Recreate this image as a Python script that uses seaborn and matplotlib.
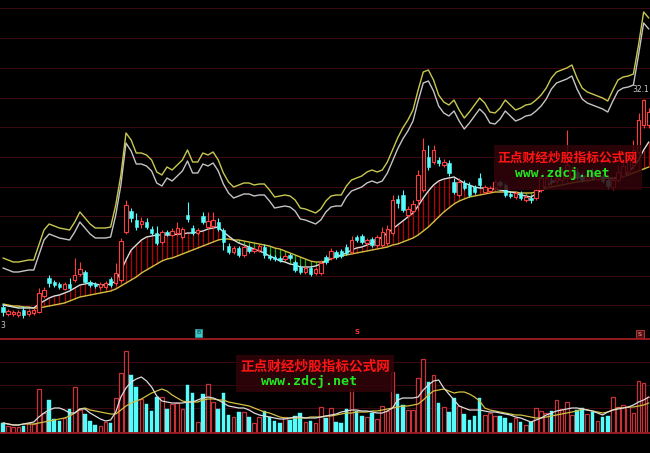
import numpy as np
import matplotlib
matplotlib.use("Agg")
import matplotlib.pyplot as plt
from matplotlib.patches import Rectangle
from matplotlib.lines import Line2D
import seaborn as sns

# ---------------- data ----------------
opens = [11.3, 10.6, 10.6, 10.5, 11.0, 10.6, 10.7, 10.8, 12.4, 14.2,
         13.8, 13.6, 13.1, 13.6, 14.0, 14.6, 14.8, 13.8, 13.6, 13.3,
         13.3, 14.1, 13.7, 14.0, 18.8, 20.9, 20.0, 19.6, 19.8, 19.1,
         18.7, 17.8, 18.8, 18.5, 18.7, 18.3, 20.5, 19.2, 18.7, 20.4,
         19.3, 19.4, 19.8, 19.0, 17.4, 16.8, 17.2, 16.5, 17.3, 16.9,
         17.0, 17.3, 16.4, 16.3, 16.2, 16.1, 16.5, 15.8, 15.3, 14.8,
         15.2, 14.7, 14.7, 16.3, 16.2, 16.8, 16.9, 17.3, 16.8, 18.3,
         18.4, 17.7, 18.1, 17.5, 17.5, 17.7, 18.7, 22.1, 22.5, 20.5,
         20.9, 22.0, 23.0, 26.3, 25.8, 26.0, 25.5, 25.7, 23.8, 22.5,
         23.7, 23.5, 23.3, 24.2, 22.8, 22.9, 23.3, 23.8, 23.5, 22.6,
         22.3, 22.7, 22.0, 22.2, 22.2, 23.0, 23.3, 24.0, 23.9, 24.0,
         24.2, 24.4, 24.8, 24.5, 24.1, 24.8, 24.1, 24.4, 24.0, 23.3,
         24.0, 24.4, 24.8, 25.5, 26.8, 29.5, 29.5]
closes = [10.8, 10.9, 10.8, 10.8, 10.5, 10.9, 11.0, 12.7, 13.0, 13.7,
          13.5, 13.3, 13.6, 13.2, 14.5, 15.1, 13.8, 13.5, 13.4, 13.6,
          13.7, 13.5, 14.7, 17.9, 21.5, 20.2, 19.3, 19.9, 19.3, 18.7,
          17.7, 18.8, 18.6, 18.9, 19.2, 19.1, 20.1, 18.7, 19.0, 19.8,
          19.9, 20.0, 19.1, 17.8, 16.8, 17.2, 16.5, 17.3, 16.9, 17.1,
          17.4, 16.5, 16.2, 16.1, 16.0, 16.4, 16.2, 15.0, 14.8, 15.2,
          14.6, 15.1, 15.7, 15.8, 16.9, 16.3, 16.4, 16.7, 18.0, 18.0,
          17.8, 18.0, 17.5, 18.3, 18.8, 19.1, 22.0, 21.7, 21.0, 21.1,
          21.6, 24.5, 27.0, 25.3, 27.0, 25.7, 25.8, 24.7, 22.8, 23.8,
          23.2, 22.5, 22.8, 23.5, 23.3, 23.2, 23.8, 23.5, 22.5, 22.4,
          22.7, 22.2, 22.3, 22.0, 23.0, 24.2, 24.2, 23.8, 24.2, 24.8,
          25.5, 25.0, 24.2, 24.0, 24.6, 24.2, 24.5, 23.9, 23.4, 24.0,
          24.8, 25.4, 26.0, 27.0, 30.0, 32.0, 30.8]
highs = [11.6, 11.1, 11.0, 11.0, 11.4, 11.1, 11.2, 13.2, 13.3, 14.5,
         14.0, 13.8, 13.8, 14.2, 16.2, 15.8, 15.0, 14.0, 13.8, 13.8,
         13.9, 14.3, 15.7, 18.2, 22.0, 21.2, 20.7, 20.3, 20.2, 19.4,
         19.4, 19.0, 19.0, 19.2, 19.8, 19.3, 21.8, 19.5, 19.2, 20.8,
         20.8, 20.8, 20.2, 19.2, 17.7, 17.4, 17.4, 17.5, 17.5, 17.3,
         17.6, 17.6, 16.6, 16.5, 16.4, 16.6, 16.7, 16.0, 15.5, 15.4,
         15.4, 15.3, 16.0, 16.5, 17.2, 17.0, 17.1, 17.6, 18.4, 18.5,
         18.6, 18.2, 18.3, 18.5, 19.3, 19.5, 22.5, 22.5, 23.0, 21.4,
         22.0, 25.0, 28.2, 27.5, 27.5, 26.3, 26.1, 26.0, 24.2, 24.2,
         24.0, 23.8, 23.5, 24.7, 23.5, 23.4, 24.0, 24.0, 23.7, 22.8,
         22.9, 22.9, 22.5, 22.4, 23.2, 24.5, 24.5, 24.3, 24.5, 25.2,
         29.0, 25.4, 25.2, 24.8, 25.0, 25.2, 24.7, 24.6, 24.3, 24.3,
         25.5, 26.0, 27.0, 28.0, 30.7, 32.1, 31.2]
lows = [10.4, 10.4, 10.4, 10.3, 10.2, 10.4, 10.5, 10.7, 12.2, 13.3,
        13.3, 13.1, 13.0, 13.0, 13.8, 14.4, 13.7, 13.3, 13.2, 13.1,
        13.1, 13.3, 13.5, 13.8, 18.6, 19.8, 19.0, 19.2, 19.1, 18.5,
        17.5, 17.6, 18.4, 18.4, 18.5, 18.1, 19.8, 18.5, 18.5, 19.6,
        19.1, 19.2, 18.9, 17.0, 16.6, 16.6, 16.3, 16.3, 16.7, 16.7,
        16.8, 16.2, 16.0, 15.9, 15.8, 15.9, 16.0, 14.8, 14.6, 14.6,
        14.4, 14.5, 14.5, 15.6, 16.0, 16.1, 16.2, 16.5, 16.6, 17.8,
        17.6, 17.5, 17.3, 17.3, 17.3, 17.5, 18.5, 21.2, 20.8, 20.3,
        20.7, 21.0, 22.8, 25.0, 25.6, 25.4, 25.3, 24.4, 22.6, 22.3,
        23.0, 22.3, 22.6, 23.2, 22.6, 22.7, 23.1, 23.3, 22.3, 22.2,
        22.1, 22.0, 21.8, 21.7, 22.0, 22.8, 23.1, 23.6, 23.7, 23.8,
        24.0, 24.2, 24.0, 23.8, 23.9, 24.0, 23.9, 23.7, 23.1, 23.0,
        23.8, 24.2, 24.6, 25.3, 26.5, 29.2, 29.2]

# fast (white) and slow (yellow) price averages
ma_fast = [11.5, 11.4, 11.3, 11.2, 11.2, 11.2, 11.2, 11.6, 11.9, 12.2,
           12.4, 12.5, 12.7, 12.9, 13.2, 13.5, 13.6, 13.7, 13.6, 13.5,
           13.5, 13.6, 13.9, 14.9, 16.0, 17.0, 17.5, 18.0, 18.3, 18.4,
           18.5, 18.5, 18.5, 18.5, 18.6, 18.6, 18.7, 18.7, 18.8, 18.9,
           19.1, 19.2, 19.3, 18.8, 18.4, 18.0, 17.7, 17.5, 17.3, 17.1,
           16.9, 16.7, 16.4, 16.2, 15.9, 15.8, 15.6, 15.5, 15.3, 15.3,
           15.3, 15.4, 15.6, 15.9, 16.2, 16.4, 16.5, 16.7, 17.0, 17.2,
           17.3, 17.5, 17.7, 18.0, 18.3, 18.7, 19.1, 19.5, 19.9, 20.3,
           20.7, 21.4, 22.2, 22.9, 23.5, 23.9, 24.1, 24.2, 24.3, 24.0,
           23.7, 23.5, 23.3, 23.2, 23.2, 23.1, 23.1, 23.0, 22.9, 22.8,
           22.7, 22.5, 22.4, 22.3, 22.6, 23.0, 23.4, 23.7, 24.0, 24.1,
           24.2, 24.2, 24.3, 24.3, 24.4, 24.4, 24.4, 24.3, 24.2, 24.1,
           24.2, 24.4, 24.8, 25.3, 26.0, 27.0, 27.8]
ma_slow = [11.6, 11.5, 11.4, 11.4, 11.3, 11.3, 11.2, 11.2, 11.3, 11.4,
           11.5, 11.6, 11.7, 11.9, 12.1, 12.3, 12.4, 12.5, 12.6, 12.7,
           12.8, 12.9, 13.1, 13.4, 13.7, 14.0, 14.3, 14.7, 15.0, 15.3,
           15.6, 15.9, 16.1, 16.2, 16.4, 16.6, 16.8, 17.0, 17.2, 17.4,
           17.6, 17.8, 18.0, 18.1, 18.1, 18.0, 18.0, 17.9, 17.8, 17.7,
           17.6, 17.5, 17.4, 17.2, 17.1, 16.9, 16.7, 16.5, 16.3, 16.1,
           15.9, 15.8, 15.8, 15.9, 16.1, 16.3, 16.4, 16.5, 16.6, 16.7,
           16.8, 16.9, 17.0, 17.1, 17.2, 17.3, 17.5, 17.6, 17.8, 18.0,
           18.2, 18.5, 18.9, 19.3, 19.8, 20.3, 20.8, 21.2, 21.6, 21.9,
           22.1, 22.3, 22.4, 22.5, 22.6, 22.7, 22.8, 22.8, 22.8, 22.8,
           22.8, 22.7, 22.7, 22.7, 22.8, 23.0, 23.2, 23.3, 23.4, 23.5,
           23.6, 23.7, 23.8, 23.9, 23.9, 24.0, 24.1, 24.1, 24.2, 24.2,
           24.3, 24.4, 24.5, 24.7, 24.9, 25.1, 25.3]

# upper band lines (yellow outer, white inner)
band_top = [16.2, 16.0, 15.8, 15.8, 15.9, 16.0, 16.0, 17.5, 19.0, 19.6,
            19.4, 19.2, 19.1, 19.0, 19.8, 20.8, 20.2, 19.6, 19.2, 19.2,
            19.2, 19.3, 21.5, 24.5, 28.7, 28.0, 26.7, 26.7, 26.5, 26.0,
            24.8, 24.5, 25.3, 25.0, 25.5, 26.0, 27.0, 25.8, 25.8, 26.7,
            26.5, 26.8, 26.0, 24.7, 23.8, 23.3, 23.5, 23.7, 23.7, 23.5,
            23.6, 23.6, 23.0, 22.3, 22.4, 22.5, 22.4, 22.0, 21.2, 21.1,
            20.9, 20.7, 21.1, 21.9, 22.4, 22.5, 22.5, 23.4, 24.0, 24.2,
            24.4, 24.8, 25.0, 24.8, 25.0, 25.8, 27.0, 28.2, 29.2, 30.0,
            31.0, 33.0, 34.8, 35.0, 34.0, 32.5, 31.8, 31.5, 32.0, 31.0,
            30.2, 30.8, 31.5, 32.2, 31.7, 30.8, 30.7, 31.2, 32.0, 31.5,
            31.0, 31.2, 31.5, 31.6, 32.0, 32.5, 33.2, 34.2, 34.8, 35.0,
            35.2, 35.5, 34.2, 33.2, 32.8, 32.6, 32.4, 32.2, 31.9, 33.0,
            34.0, 34.3, 34.4, 34.6, 37.5, 40.8, 40.2]
band_mid = [15.2, 15.0, 14.8, 14.8, 14.9, 15.0, 15.0, 16.5, 18.0, 18.6,
            18.4, 18.2, 18.1, 18.0, 18.8, 19.8, 19.2, 18.6, 18.2, 18.2,
            18.2, 18.3, 20.5, 23.5, 27.7, 26.9, 25.6, 25.6, 25.4, 24.9,
            23.7, 23.4, 24.2, 23.9, 24.4, 24.9, 25.9, 24.7, 24.7, 25.6,
            25.4, 25.7, 24.9, 23.6, 22.7, 22.2, 22.4, 22.6, 22.6, 22.4,
            22.5, 22.5, 21.9, 21.2, 21.3, 21.4, 21.3, 20.9, 20.1, 20.0,
            19.8, 19.6, 20.0, 20.8, 21.3, 21.4, 21.4, 22.3, 22.9, 23.1,
            23.3, 23.7, 23.9, 23.7, 23.9, 24.7, 25.9, 27.1, 28.1, 28.9,
            29.9, 31.9, 33.7, 33.9, 32.9, 31.4, 30.7, 30.4, 30.9, 29.9,
            29.1, 29.7, 30.4, 31.1, 30.6, 29.7, 29.6, 30.1, 30.9, 30.4,
            29.9, 30.1, 30.4, 30.5, 30.9, 31.4, 32.1, 33.1, 33.7, 33.9,
            34.1, 34.4, 33.1, 32.1, 31.7, 31.5, 31.3, 31.1, 30.8, 31.9,
            32.9, 33.2, 33.3, 33.5, 36.5, 39.7, 39.1]

volumes = [10, 7, 6, 6, 7, 10, 9, 44, 20, 33,
           14, 12, 15, 24, 46, 23, 19, 12, 8, 7,
           11, 10, 35, 60, 82, 58, 46, 34, 29, 22,
           36, 36, 24, 29, 30, 24, 48, 40, 11, 39,
           49, 31, 24, 40, 18, 16, 21, 21, 16, 10,
           16, 22, 16, 12, 10, 16, 13, 17, 20, 11,
           12, 10, 26, 15, 25, 11, 10, 24, 44, 22,
           17, 16, 20, 14, 27, 22, 61, 39, 28, 23,
           23, 55, 74, 51, 58, 30, 26, 21, 35, 27,
           19, 13, 17, 35, 18, 20, 17, 17, 15, 10,
           15, 11, 8, 11, 25, 22, 20, 22, 33, 24,
           31, 18, 23, 25, 19, 21, 12, 16, 17, 36,
           26, 28, 26, 20, 52, 50, 36]
vol_ma_fast = [10, 9, 8, 8, 9, 10, 11, 16, 20, 23,
               25, 25, 23, 20, 20, 24, 24, 20, 17, 14,
               12, 13, 21, 36, 45, 51, 54, 56, 52, 46,
               37, 32, 31, 30, 30, 30, 31, 31, 33, 35,
               36, 35, 33, 30, 27, 26, 25, 25, 23, 20,
               18, 17, 16, 15, 14, 14, 15, 16, 16, 15,
               15, 15, 16, 17, 18, 19, 21, 22, 23, 23,
               22, 22, 21, 20, 20, 22, 25, 33, 35, 35,
               35, 36, 43, 48, 52, 53, 45, 39, 33, 27,
               25, 23, 23, 23, 22, 21, 21, 20, 19, 18,
               16, 15, 13, 11, 13, 15, 18, 20, 22, 23,
               24, 25, 25, 24, 23, 22, 20, 18, 21, 23,
               24, 25, 26, 28, 31, 33, 36]
vol_ma_slow = [10, 9, 8, 8, 9, 9, 9, 10, 11, 12,
               13, 14, 15, 17, 20, 24, 25, 23, 22, 21,
               20, 19, 19, 23, 27, 30, 32, 34, 37, 40,
               42, 44, 42, 38, 35, 32, 31, 31, 31, 33,
               34, 34, 33, 33, 31, 30, 29, 28, 27, 25,
               23, 21, 20, 18, 16, 15, 15, 15, 15, 15,
               16, 16, 16, 17, 17, 18, 19, 20, 20, 21,
               21, 21, 22, 22, 23, 24, 25, 26, 27, 27,
               28, 29, 33, 38, 42, 43, 44, 42, 40, 41,
               41, 39, 36, 32, 25, 23, 22, 21, 20, 19,
               18, 18, 17, 16, 15, 15, 16, 17, 18, 19,
               20, 21, 22, 24, 23, 22, 21, 20, 21, 23,
               25, 25, 26, 26, 27, 28, 30]

grid_levels = [41.2, 38.2, 35.2, 32.25, 29.3, 26.3, 23.35, 20.4, 17.4, 14.45, 11.5]
vol_grid_levels = [71, 48, 25]
watermark_cn = "正点财经炒股指标公式网"
watermark_url = "www.zdcj.net"
high_label = "32.1"
low_label = "3"

# ---------------- styling ----------------
sns.set_style("dark", {"axes.facecolor": "black", "figure.facecolor": "black"})
plt.rcParams['font.family'] = ['Noto Sans CJK SC', 'DejaVu Sans']

RED = '#ff3c3c'
VRED = '#c8323a'
CYAN = '#54fcfc'
FILL_RED = '#b80000'
FILL_GREEN = '#10b010'
W_LINE = '#dcdcdc'
Y_LINE = '#d2c040'
BAND_Y = '#c8c850'
BAND_W = '#c4c4c4'
GRID = '#3c0a12'

W, H = 650.0, 453.0
fig = plt.figure(figsize=(6.5, 4.53), dpi=100, facecolor='black')
ax = fig.add_axes([0, (H - 339) / H, 1, 339 / H])
axv = fig.add_axes([0, (H - 433) / H, 1, 94 / H])

n = len(opens)
idx = np.arange(n)
xlim = (-0.585, 126.24)
for a in (ax, axv):
    a.set_facecolor('black')
    a.set_xlim(*xlim)
    a.set_xticks([]); a.set_yticks([])
    for s in a.spines.values():
        s.set_visible(False)
    a.grid(False)
ax.set_ylim(8.1, 42.0)
axv.set_ylim(0, 94)

for g in grid_levels:
    ax.axhline(g, color=GRID, lw=0.7, zorder=0)
for g in vol_grid_levels:
    axv.axhline(g, color=GRID, lw=0.7, zorder=0)

# columns between the two averages
for i in idx:
    f, s = ma_fast[i], ma_slow[i]
    col = FILL_RED if f >= s else FILL_GREEN
    ax.vlines(i, min(f, s), max(f, s), color=col, lw=0.9, zorder=1)

# averages and band lines via seaborn
sns.lineplot(x=idx, y=ma_slow, ax=ax, color=Y_LINE, linewidth=1.0, zorder=3)
sns.lineplot(x=idx, y=ma_fast, ax=ax, color=W_LINE, linewidth=1.0, zorder=3)
sns.lineplot(x=idx, y=band_mid, ax=ax, color=BAND_W, linewidth=1.0, zorder=3)
sns.lineplot(x=idx, y=band_top, ax=ax, color=BAND_Y, linewidth=1.0, zorder=3)

# candles
cw = 0.68
for i in idx:
    o, h, l, c = opens[i], highs[i], lows[i], closes[i]
    top, bot = max(o, c), min(o, c)
    if top - bot < 0.1:
        top = bot + 0.1
    if c >= o:
        ax.vlines(i, top, h, color=RED, lw=0.8, zorder=4)
        ax.vlines(i, l, bot, color=RED, lw=0.8, zorder=4)
        ax.add_patch(Rectangle((i - cw / 2, bot), cw, top - bot, facecolor='black',
                               edgecolor=RED, lw=0.8, zorder=5))
    else:
        ax.vlines(i, l, h, color=CYAN, lw=0.8, zorder=4)
        ax.add_patch(Rectangle((i - cw / 2, bot), cw, top - bot, facecolor=CYAN,
                               edgecolor=CYAN, lw=0.4, zorder=5))

# volume
vw = 0.7
for i in idx:
    v = volumes[i]
    if closes[i] >= opens[i]:
        axv.add_patch(Rectangle((i - vw / 2, 0), vw, v, facecolor='black',
                                edgecolor=VRED, lw=0.9, zorder=2))
    else:
        axv.add_patch(Rectangle((i - vw / 2, 0), vw, v, facecolor=CYAN,
                                edgecolor=CYAN, lw=0.3, zorder=2))
sns.lineplot(x=idx, y=vol_ma_slow, ax=axv, color=Y_LINE, linewidth=0.9, zorder=3)
sns.lineplot(x=idx, y=vol_ma_fast, ax=axv, color=W_LINE, linewidth=0.9, zorder=3)
for a in (ax, axv):
    a.set_xlabel(''); a.set_ylabel('')

# panel separators
for ypix in (339, 433):
    fig.add_artist(Line2D([0, 1], [1 - ypix / H, 1 - ypix / H], color='#a01c24', lw=1.3))

def fx(px):
    return px / W

def fy(py):
    return 1 - py / H

# watermarks
def watermark(x0, y0, x1, y1, cn_x, cn_y, cn_size, url_x, url_y, url_size):
    fig.add_artist(Rectangle((fx(x0), fy(y1)), fx(x1) - fx(x0), fy(y0) - fy(y1),
                             transform=fig.transFigure, facecolor='#32040a',
                             edgecolor='none', alpha=0.85, zorder=10))
    fig.text(fx(cn_x), fy(cn_y), watermark_cn, color='#ff1414', fontsize=cn_size,
             fontweight='bold', ha='left', va='center', zorder=11,
             family=['Noto Sans CJK SC', 'DejaVu Sans'])
    fig.text(fx(url_x), fy(url_y), watermark_url, color='#22e622', fontsize=url_size,
             fontweight='bold', ha='left', va='center', zorder=11, family='DejaVu Sans Mono')

watermark(494, 145, 642, 190, 497, 158, 9.2, 515, 173, 9.4)
watermark(236, 355, 394, 392, 240, 367, 9.8, 261, 381, 9.6)

# small labels / markers
fig.text(fx(649), fy(89), high_label, color='#c8c8c8', fontsize=5.5, ha='right', va='center',
         family='DejaVu Sans')
fig.text(fx(0.5), fy(325), low_label, color='#c8c8c8', fontsize=5.5, ha='left', va='center',
         family='DejaVu Sans')
fig.add_artist(Rectangle((fx(195), fy(337)), 7 / W, 8 / H, transform=fig.transFigure,
                         facecolor='#3cc8c8', edgecolor='#2a9a9a', lw=0.6))
fig.text(fx(198.5), fy(333), "B", color='#0a3a3a', fontsize=4.5, ha='center', va='center',
         family='DejaVu Sans')
fig.text(fx(357), fy(332), "S", color='#ff3030', fontsize=5, ha='center', va='center',
         family='DejaVu Sans', fontweight='bold')
fig.add_artist(Rectangle((fx(636), fy(338)), 8 / W, 8 / H, transform=fig.transFigure,
                         facecolor='#5a1010', edgecolor='#c04040', lw=0.6))
fig.text(fx(640), fy(334), "S", color='#ffb0b0', fontsize=4.5, ha='center', va='center',
         family='DejaVu Sans')

fig.savefig('out.png', dpi=100, facecolor='black')
